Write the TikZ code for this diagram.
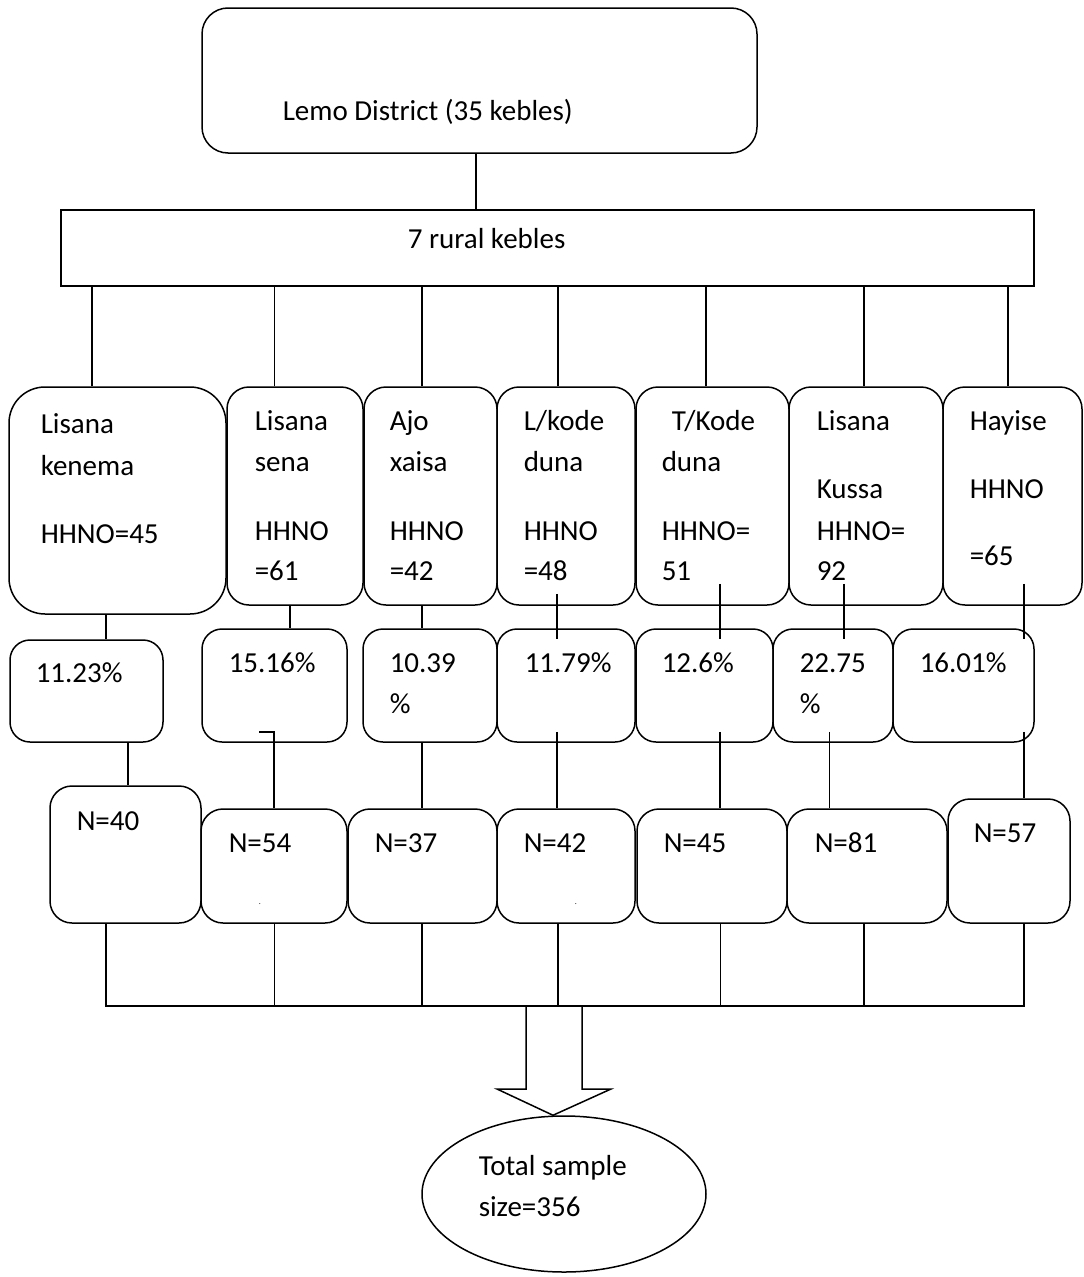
\documentclass[tikz,border=0pt]{standalone}
\usepackage{fontspec}
\setmainfont{Carlito}
\usetikzlibrary{shapes.geometric}

\tikzset{etq/.style={font=\fontsize{29}{35}\selectfont, anchor=base west, inner sep=0pt},
         bx/.style={draw, rectangle, rounded corners=22pt, inner sep=0pt}}

\begin{document}
\begin{tikzpicture}[x=1pt, y=-1pt, line width=1.5pt]
  \useasboundingbox (0,0) rectangle (1084,1277);
  % district and rural kebeles
  \node[bx, rounded corners=26pt, minimum width=555pt, minimum height=145pt] (dist) at (479.5,80.5) {};
  \node[draw, inner sep=0pt, minimum width=973pt, minimum height=76pt] (rur) at (547.5,248) {};
  \node[etq] (lemo) at (282,120) {Lemo District (35 kebles)};
  \node[etq] (seven) at (407,248) {7 rural kebles};
  \draw ([xshift=-3.5pt]dist.south) -- ([xshift=-71.5pt]rur.north);

  % kebeles
  \node[bx, rounded corners=36pt, minimum width=217pt, minimum height=227pt] (k1) at (117.5,500.5) {};
  \node[bx, minimum width=136pt, minimum height=218pt] (k2) at (295,496) {};
  \node[bx, minimum width=133pt, minimum height=218pt] (k3) at (430.5,496) {};
  \node[bx, minimum width=138pt, minimum height=218pt] (k4) at (566,496) {};
  \node[bx, minimum width=153pt, minimum height=218pt] (k5) at (712.5,496) {};
  \node[bx, minimum width=154pt, minimum height=218pt] (k6) at (866,496) {};
  \node[bx, minimum width=139pt, minimum height=218pt] (k7) at (1012.5,496) {};
  \draw ([xshift=-25.5pt]k1.north) -- ([xshift=-455.5pt]rur.south);
  \draw ([xshift=-20.5pt]k2.north) -- ([xshift=-273pt]rur.south);
  \draw ([xshift=-8.5pt]k3.north) -- ([xshift=-125.5pt]rur.south);
  \draw ([xshift=-8pt]k4.north) -- ([xshift=10.5pt]rur.south);
  \draw ([xshift=-6.5pt]k5.north) -- ([xshift=158.5pt]rur.south);
  \draw ([xshift=-2pt]k6.north) -- ([xshift=316.5pt]rur.south);
  \draw ([xshift=-4.5pt]k7.north) -- ([xshift=460.5pt]rur.south);
  \node[etq] (k1a) at (40,433) {Lisana};   \node[etq] (k1b) at (40,475) {kenema};  \node[etq] (k1c) at (40,543) {HHNO=45};
  \node[etq] (k2a) at (254,430) {Lisana};  \node[etq] (k2b) at (254,471) {sena};    \node[etq] (k2c) at (254,540) {HHNO};  \node[etq] (k2d) at (254,580) {=61};
  \node[etq] (k3a) at (389,430) {Ajo};     \node[etq] (k3b) at (389,471) {xaisa};   \node[etq] (k3c) at (389,540) {HHNO};  \node[etq] (k3d) at (389,580) {=42};
  \node[etq] (k4a) at (523,430) {L/kode};  \node[etq] (k4b) at (523,471) {duna};    \node[etq] (k4c) at (523,540) {HHNO};  \node[etq] (k4d) at (523,580) {=48};
  \node[etq] (k5a) at (671,430) {T/Kode};  \node[etq] (k5b) at (661,471) {duna};    \node[etq] (k5c) at (661,540) {HHNO=}; \node[etq] (k5d) at (661,580) {51};
  \node[etq] (k6a) at (816,430) {Lisana};  \node[etq] (k6b) at (816,498) {Kussa};   \node[etq] (k6c) at (816,540) {HHNO=}; \node[etq] (k6d) at (816,580) {92};
  \node[etq] (k7a) at (969,430) {Hayise};  \node[etq] (k7b) at (969,498) {HHNO};    \node[etq] (k7c) at (969,565) {=65};

  % proportions
  \node[bx, rounded corners=20pt, minimum width=153pt, minimum height=102pt] (p1) at (86.5,691) {};
  \node[bx, rounded corners=20pt, minimum width=145pt, minimum height=113pt] (p2) at (274.5,685.5) {};
  \node[bx, rounded corners=20pt, minimum width=134pt, minimum height=113pt] (p3) at (430,685.5) {};
  \node[bx, rounded corners=20pt, minimum width=138pt, minimum height=113pt] (p4) at (566,685.5) {};
  \node[bx, rounded corners=20pt, minimum width=137pt, minimum height=113pt] (p5) at (704.5,685.5) {};
  \node[bx, rounded corners=20pt, minimum width=120pt, minimum height=113pt] (p6) at (833,685.5) {};
  \node[bx, rounded corners=20pt, minimum width=141pt, minimum height=113pt] (p7) at (963.5,685.5) {};
  \draw ([xshift=-11.5pt]k1.south) -- ([xshift=19.5pt]p1.north);
  \draw ([xshift=-5pt]k2.south) -- ([xshift=15.5pt]p2.north);
  \draw ([xshift=-8.5pt]k3.south) -- ([xshift=-8pt]p3.north);
  \draw ([xshift=-9pt,yshift=12pt]k4.south) -- ([xshift=-9pt,yshift=-11pt]p4.north);
  \draw ([xshift=7.5pt,yshift=22pt]k5.south) -- ([xshift=15.5pt,yshift=-11pt]p5.north);
  \draw ([xshift=-22pt,yshift=22pt]k6.south) -- ([xshift=11pt,yshift=-11pt]p6.north);
  \draw ([xshift=11.5pt,yshift=22pt]k7.south) -- ([xshift=60.5pt,yshift=-11pt]p7.north);
  \node[etq] (p1a) at (35,682) {11.23\%};
  \node[etq] (p2a) at (228,672) {15.16\%};
  \node[etq] (p3a) at (389,672) {10.39};  \node[etq] (p3b) at (389,713) {\%};
  \node[etq] (p4a) at (524,672) {11.79\%};
  \node[etq] (p5a) at (661,672) {12.6\%};
  \node[etq] (p6a) at (799,672) {22.75};  \node[etq] (p6b) at (799,713) {\%};
  \node[etq] (p7a) at (919,672) {16.01\%};

  % sample sizes
  \node[bx, minimum width=151pt, minimum height=137pt] (n1) at (125.5,854.5) {};
  \node[bx, minimum width=146pt, minimum height=114pt] (n2) at (274,866) {};
  \node[bx, minimum width=149pt, minimum height=114pt] (n3) at (422.5,866) {};
  \node[bx, minimum width=138pt, minimum height=114pt] (n4) at (566,866) {};
  \node[bx, minimum width=150pt, minimum height=114pt] (n5) at (712,866) {};
  \node[bx, minimum width=160pt, minimum height=114pt] (n6) at (867,866) {};
  \node[bx, minimum width=122pt, minimum height=124pt] (n7) at (1009,861) {};
  \draw ([xshift=41.5pt]p1.south) -- ([xshift=2.5pt]n1.north);
  \draw ([xshift=-15.5pt,yshift=11pt]p2.south) -| (n2.north);
  \draw ([xshift=-8pt]p3.south) -- ([xshift=-0.5pt]n3.north);
  \draw ([xshift=-9pt,yshift=11pt]p4.south) -- ([xshift=-9pt]n4.north);
  \draw ([xshift=15.5pt,yshift=11pt]p5.south) -- ([xshift=8pt]n5.north);
  \draw ([xshift=-3.5pt,yshift=11pt]p6.south) -- ([xshift=-37.5pt]n6.north);
  \draw ([xshift=60.5pt,yshift=11pt]p7.south) -- ([xshift=15pt]n7.north);
  \node[etq] (n1a) at (76,830) {N=40};
  \node[etq] (n2a) at (228,852) {N=54};
  \node[etq] (n3a) at (374,852) {N=37};
  \node[etq] (n4a) at (523,852) {N=42};
  \node[etq] (n5a) at (663,852) {N=45};
  \node[etq] (n6a) at (814,852) {N=81};
  \node[etq] (n7a) at (973,842) {N=57};
  \node[font=\fontsize{8}{8}\selectfont, anchor=base, inner sep=0pt] (dot2) at (260,904) {.};
  \node[font=\fontsize{8}{8}\selectfont, anchor=base, inner sep=0pt] (dot4) at (576,904) {.};

  % merge into total
  \coordinate (merge) at (1024,1006);
  \draw ([xshift=-19.5pt]n1.south) |- (merge) -- ([xshift=15pt]n7.south);
  \draw ([xshift=0.5pt]n2.south) -- ([xshift=0.5pt]n2.south |- merge);
  \draw ([xshift=-0.5pt]n3.south) -- ([xshift=-0.5pt]n3.south |- merge);
  \draw ([xshift=-8pt]n4.south) -- ([xshift=-8pt]n4.south |- merge);
  \draw ([xshift=8.5pt]n5.south) -- ([xshift=8.5pt]n5.south |- merge);
  \draw ([xshift=-3pt]n6.south) -- ([xshift=-3pt]n6.south |- merge);
  \node[draw, ellipse, inner sep=0pt, minimum width=284pt, minimum height=156pt] (tot) at (564,1194) {};
  \draw (526,1006) -- (582,1006) -- (582,1089) -- (611,1089) -- ([xshift=-11pt]tot.north) -- (497,1089) -- (526,1089) -- cycle;
  \node[etq] (tot1) at (478,1175) {Total sample};
  \node[etq] (tot2) at (478,1216) {size=356};
\end{tikzpicture}
\end{document}
